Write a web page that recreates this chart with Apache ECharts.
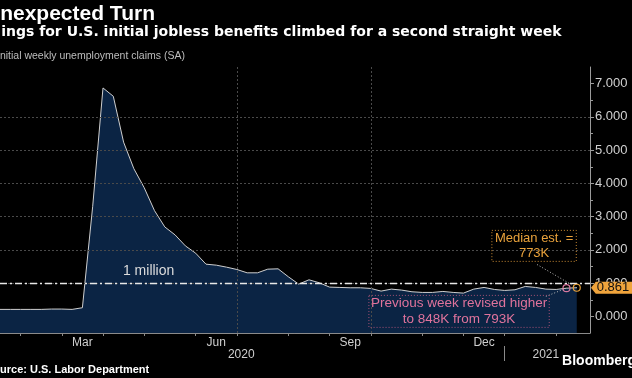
<!DOCTYPE html>
<html><head><meta charset="utf-8">
<script src="https://cdn.jsdelivr.net/npm/echarts@6/dist/echarts.min.js"></script>
<style>html,body{margin:0;padding:0;background:#000;}#c{width:632px;height:378px;}</style>
</head><body><div id="c"></div>
<script>
// week-ending dates (Saturdays)
const weeks = ['2020-01-11','2020-01-18','2020-01-25','2020-02-01','2020-02-08','2020-02-15','2020-02-22','2020-02-29',
'2020-03-07','2020-03-14','2020-03-21','2020-03-28','2020-04-04','2020-04-11','2020-04-18','2020-04-25',
'2020-05-02','2020-05-09','2020-05-16','2020-05-23','2020-05-30','2020-06-06','2020-06-13','2020-06-20','2020-06-27',
'2020-07-04','2020-07-11','2020-07-18','2020-07-25','2020-08-01','2020-08-08','2020-08-15','2020-08-22','2020-08-29',
'2020-09-05','2020-09-12','2020-09-19','2020-09-26','2020-10-03','2020-10-10','2020-10-17','2020-10-24','2020-10-31',
'2020-11-07','2020-11-14','2020-11-21','2020-11-28','2020-12-05','2020-12-12','2020-12-19','2020-12-26',
'2021-01-02','2021-01-09','2021-01-16','2021-01-23','2021-01-30','2021-02-06','2021-02-13'];
// initial claims, millions
const claims = [0.21,0.21,0.21,0.21,0.21,0.21,0.22,0.22,
0.21,0.26,3.31,6.87,6.62,5.24,4.44,3.87,
3.18,2.69,2.45,2.12,1.90,1.57,1.54,1.48,1.41,
1.31,1.31,1.42,1.43,1.19,0.97,1.10,1.01,0.88,
0.87,0.86,0.86,0.84,0.76,0.82,0.79,0.74,0.72,
0.72,0.75,0.72,0.70,0.82,0.87,0.81,0.78,
0.80,0.90,0.87,0.82,0.81,0.848,0.861];
const monthTicks = ['2020-02-01','2020-02-29','2020-03-28','2020-04-25','2020-05-30','2020-06-27','2020-08-01','2020-08-29','2020-09-26','2020-10-31','2020-11-28','2020-12-26','2021-01-30'];
const monthLabelPos = ['2020-03-14','2020-06-13','2020-09-12','2020-12-12'];
const monthLabels = ['Mar','Jun','Sep','Dec'];
const quarterLines = ['2020-03-28','2020-06-27','2020-09-26','2020-12-26'];
const yearLabelPos = ['2020-06-30','2021-01-23'];
const yearLabels = ['2020','2021'];
const yearBreak = ['2020-12-26'];
const yTicks = [0,1,2,3,4,5,6,7];
const xRange = ['2020-01-18','2021-02-22'];
const lastValue = 0.861, prevValue = 0.848;

const t = s => +new Date(s + 'T00:00:00Z');
const FONT = 'Liberation Sans';
const chart = echarts.init(document.getElementById('c'), null, {renderer:'canvas'});

const monthTs = monthLabelPos.map(t);
const yearTs = yearLabelPos.map(t);
const xMin = t(xRange[0]), xMax = t(xRange[1]);

chart.setOption({
  backgroundColor:'#000',
  animation:false,
  textStyle:{fontFamily:FONT},
  title:[
    {text:'Unexpected Turn', left:-15, top:4, padding:0, textStyle:{color:'#fff', fontSize:21, fontWeight:'bold', fontFamily:FONT}},
    {text:'Filings for U.S. initial jobless benefits climbed for a second straight week', left:-18, top:25, padding:0, textStyle:{color:'#fff', fontSize:14, fontWeight:'bold', fontFamily:'DejaVu Sans'}},
    {text:'Initial weekly unemployment claims (SA)', left:-3, top:51, padding:0, textStyle:{color:'#bdbdbd', fontSize:10.5, fontWeight:'normal', fontFamily:FONT}},
    {text:'Source: U.S. Labor Department', left:-14, top:364, padding:0, textStyle:{color:'#fff', fontSize:11, fontWeight:'bold', fontFamily:FONT}},
    {text:'Bloomberg', right:-4, top:354, padding:0, textStyle:{color:'#fff', fontSize:14, fontWeight:'bold', fontFamily:FONT}}
  ],
  grid:{left:0, right:42, top:67, bottom:45},
  xAxis:[
    {type:'value', min:xMin, max:xMax, z:1,
     axisLine:{show:true, onZero:false, lineStyle:{color:'#8a8a8a', width:1}},
     axisTick:{show:true, customValues:monthTicks.map(t), length:3, lineStyle:{color:'#8a8a8a'}},
     axisLabel:{show:true, customValues:monthTs, margin:4, color:'#cfcfcf', fontSize:12, fontFamily:FONT,
       formatter:(v)=>{const i=monthTs.indexOf(v); return i>=0?monthLabels[i]:'';}},
     splitLine:{show:false}},
    {type:'value', min:xMin, max:xMax, z:3,
     axisLine:{show:false, onZero:false},
     axisTick:{show:false, customValues:quarterLines.map(t)},
     axisLabel:{show:false},
     splitLine:{show:true, showMinLine:false, showMaxLine:false, lineStyle:{color:'#4a4a4a', type:[2,2], width:1}}},
    {type:'value', min:xMin, max:xMax, position:'bottom', offset:13, z:1,
     axisLine:{show:false, onZero:false},
     axisTick:{show:true, customValues:yearBreak.map(t), length:15, lineStyle:{color:'#8a8a8a'}},
     axisLabel:{show:true, customValues:yearTs, margin:3, color:'#cfcfcf', fontSize:12, fontFamily:FONT,
       formatter:(v)=>{const i=yearTs.indexOf(v); return i>=0?yearLabels[i]:'';}},
     splitLine:{show:false}}
  ],
  yAxis:{type:'value', position:'right', min:-0.5, max:7.5, splitNumber:8, z:3,
    axisLine:{show:true, lineStyle:{color:'#9a9a9a'}},
    axisTick:{show:true, customValues:yTicks, length:4, lineStyle:{color:'#9a9a9a'}},
    minorTick:{show:true, splitNumber:2, length:3, lineStyle:{color:'#9a9a9a'}},
    axisLabel:{show:true, customValues:yTicks, margin:5, color:'#d0d0d0', fontSize:13, fontFamily:FONT, formatter:v=>v.toFixed(3)},
    splitLine:{show:true, showMinLine:false, showMaxLine:false, lineStyle:{color:'#4a4a4a', type:[2,2], width:1}}
  },
  series:[
    {type:'line', xAxisIndex:0, data:weeks.map((d,i)=>[t(d), claims[i]]), symbol:'none', z:2,
     lineStyle:{color:'#cfcfcf', width:1}, areaStyle:{color:'#0b2444', opacity:1, origin:'start'}},
    {type:'line', xAxisIndex:0, data:[], z:5, silent:true,
     markLine:{silent:true, symbol:['none','none'], animation:false,
       data:[
         {yAxis:1, lineStyle:{color:'#e8e8e8', type:[7,3,2,3], width:1.3}, label:{show:false}},
         [{coord:[t('2021-01-17'),1.56], lineStyle:{color:'#b8b8b8', type:[1,2], width:1}, label:{show:false}},{coord:[t('2021-02-13'),lastValue]}],
         [{coord:[t('2021-01-23'),0.6], lineStyle:{color:'#b8b8b8', type:[1,2], width:1}, label:{show:false}},{coord:[t('2021-02-06'),prevValue]}]
       ]},
     markPoint:{silent:true, animation:false,
       data:[
         {coord:[t('2020-04-28'),1], symbol:'circle', symbolSize:1, itemStyle:{color:'rgba(0,0,0,0)'},
          label:{show:true, position:'inside', offset:[0,-12], formatter:'1 million', color:'#dcdcdc', fontSize:14, fontFamily:FONT}},
         {coord:[t('2021-01-15'),2.12], symbol:'circle', symbolSize:1, itemStyle:{color:'rgba(0,0,0,0)'},
          label:{show:true, position:'inside', formatter:'Median est. =\n773K', color:'#e9a23b', fontSize:13, lineHeight:15, fontFamily:FONT, align:'center',
            borderColor:'#c98a33', borderWidth:1, borderType:[1,2], padding:[1,3,0,3]}},
         {coord:[t('2020-11-25'),0.15], symbol:'circle', symbolSize:1, itemStyle:{color:'rgba(0,0,0,0)'},
          label:{show:true, position:'inside', formatter:'Previous week revised higher\nto 848K from 793K', color:'#e0739c', fontSize:13.5, lineHeight:16, fontFamily:FONT, align:'center',
            borderColor:'#a85276', borderWidth:1, borderType:[1,2], padding:[0,2,0,2]}},
         {coord:[t('2021-02-06'),prevValue], symbol:'circle', symbolSize:7, itemStyle:{color:'rgba(0,0,0,0)', borderColor:'#d9799f', borderWidth:1.2}, label:{show:false}},
         {coord:[t('2021-02-13'),lastValue], symbol:'circle', symbolSize:7, itemStyle:{color:'rgba(0,0,0,0)', borderColor:'#e9a23b', borderWidth:1.2}, label:{show:false}},
         {coord:[xMax,lastValue], symbol:'path://M0,6 L5,0 L48,0 L48,12 L5,12 Z', symbolSize:[46,12], symbolKeepAspect:false, symbolOffset:[24,0],
          itemStyle:{color:'#f0a43c'},
          label:{show:true, position:'inside', offset:[-1,0], formatter:lastValue.toFixed(3), color:'#111', fontSize:13, fontFamily:FONT}}
       ]}
    }
  ]
});
</script></body></html>
